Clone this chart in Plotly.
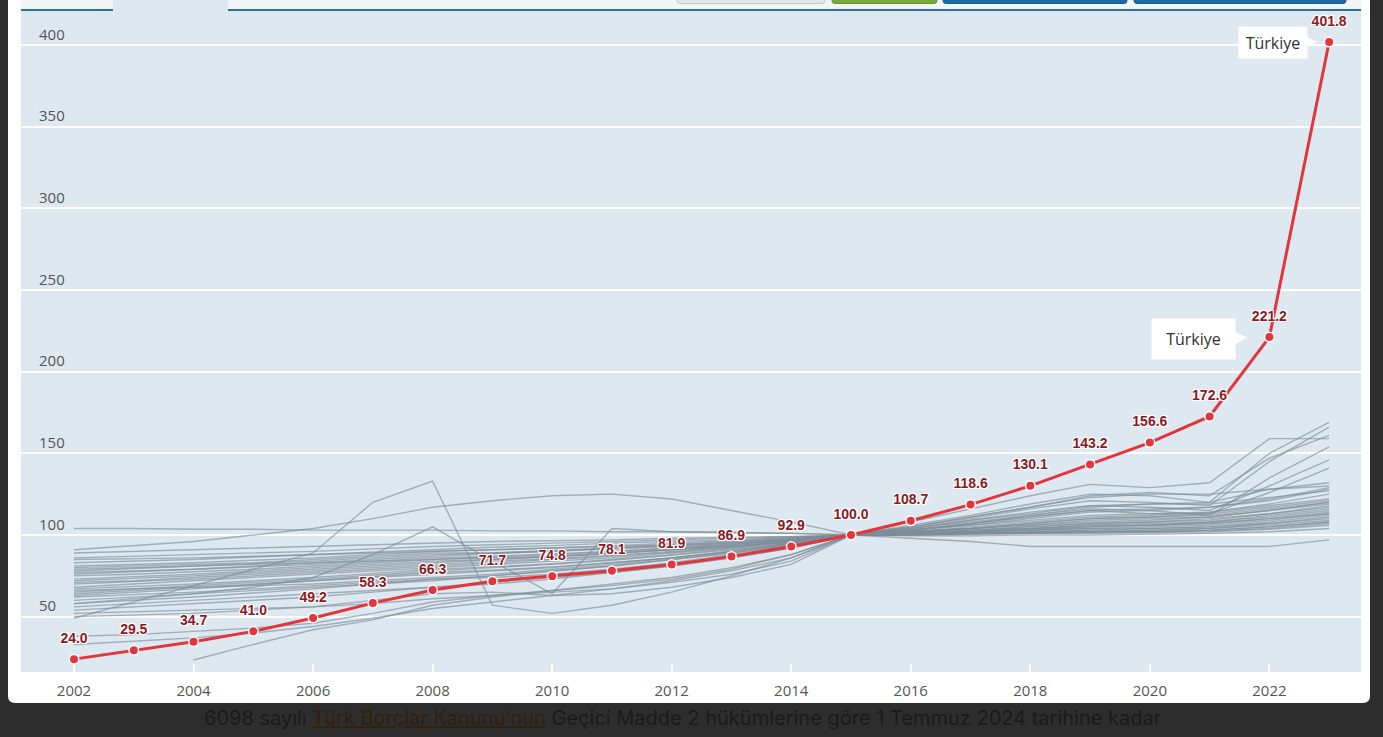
import plotly.graph_objects as go

# ---------------- data ----------------
yillar = list(range(2002, 2024))
turkiye = [24.0, 29.5, 34.7, 41.0, 49.2, 58.3, 66.3, 71.7, 74.8, 78.1, 81.9,
           86.9, 92.9, 100.0, 108.7, 118.6, 130.1, 143.2, 156.6, 172.6, 221.2, 401.8]
x_tick_yillar = list(range(2002, 2023, 2))
y_tick_degerler = [50, 100, 150, 200, 250, 300, 350, 400]
etiket = "Türkiye"
alt_yazi_1 = "6098 sayılı "
alt_yazi_link = "Türk Borçlar Kanunu’nun"
alt_yazi_2 = " Geçici Madde 2 hükümlerine göre 1 Temmuz 2024 tarihine kadar"

# other countries (index, 2015 = 100)
ulke_01 = [104, 104, 103.5, 103.5, 103, 103, 103, 102.5, 102.5, 102, 102, 101.5, 101, 100, 100.5, 101, 101.5, 102, 102, 103, 105, 108]
ulke_02 = [91, 93.5, 96, 100, 104, 110, 117, 121, 124, 125, 122, 115, 108, 100, 103, 106, 110, 114, 115, 117, 122, 129]
ulke_03 = [49, 59, 69, 79, 89, 120, 133, 57, 52, 57, 65, 75, 86, 100, 103, 106, 109, 112, 113, 114, 118, 122]
ulke_04 = [58, 61, 64, 68, 74, 88, 105, 84, 64, 104, 102, 101.5, 101, 100, 105, 111, 117, 124, 126, 124, 147, 161]
ulke_05 = [64, 66, 68, 70, 72, 74, 76, 78, 80, 83, 86, 90, 95, 100, 100, 100.5, 101, 101, 101.5, 102, 103.5, 106]
ulke_06 = [None, None, 23.5, 33, 42, 48, 57, 62, 66, 70, 74, 80, 88, 100, 108, 116, 124, 131, 129, 132, 159, 159]
ulke_07 = [38, 39, 41, 43, 46, 52, 59, 63, 66, 69, 73, 79, 88, 100, 106, 112, 119, 125, 124, 120, 150, 169]
ulke_08 = [33, 35, 37, 40, 44, 49, 55, 59, 63, 67, 72, 78, 86, 100, 104, 108, 112, 116, 115, 112, 135, 154]
ulke_09 = [89, 90, 91, 92, 93, 94, 95, 96, 96.5, 97, 98, 98.5, 99, 100, 99.5, 99.5, 100, 100, 100.5, 101, 102, 104]
ulke_10 = [86, 87, 88, 89, 90, 91.5, 93, 94, 95, 96, 97, 98, 99, 100, 100, 100.5, 101, 101.5, 102, 102.5, 104, 107]
ulke_11 = [83, 84, 85, 86.5, 88, 89.5, 91, 92.5, 93.5, 95, 96, 97, 98.5, 100, 105, 110, 116, 121, 120, 118, 145, 166]
ulke_12 = [81, 82, 83, 84.5, 86, 88, 90, 91, 92, 93.5, 95, 96.5, 98, 100, 100, 101, 101.5, 102, 102, 103, 105, 108]
ulke_13 = [80, 81, 82, 83, 85, 87, 89, 89, 90, 92, 94, 96, 98, 100, 104, 109, 114, 118, 119, 120, 128, 132]
ulke_14 = [78, 79.5, 81, 82.5, 84, 86, 88, 89, 90.5, 92, 93.5, 95, 97.5, 100, 100.5, 101, 101.5, 102, 103, 104, 106, 109]
ulke_15 = [77, 78, 79, 81, 83, 85, 87, 88.5, 90, 91.5, 93, 95, 97, 100, 102, 104, 107, 110, 111, 113, 117, 121]
ulke_16 = [76, 77.5, 79, 80.5, 82, 84, 86, 87, 88.5, 90, 92, 94, 97, 100, 100.5, 101, 102, 103, 103, 104, 107, 110]
ulke_17 = [75, 76, 77.5, 79, 81, 83, 85, 86.5, 88, 90, 92, 94.5, 97, 100, 104, 109, 113, 118, 117, 115, 130, 146]
ulke_18 = [73, 74.5, 76, 78, 80, 82, 84, 85, 86.5, 88.5, 91, 93.5, 96.5, 100, 100.5, 101, 102, 103, 104, 105, 107, 111]
ulke_19 = [72, 73.5, 75, 77, 79, 81, 83, 85, 87, 89, 91, 93, 96, 100, 102, 104, 106, 109, 110, 111, 115, 120]
ulke_20 = [71, 72, 74, 76, 78, 80, 82, 84, 85.5, 87.5, 90, 93, 96, 100, 98, 96, 93, 93, 93, 93, 93, 97]
ulke_21 = [70, 71.5, 73, 75, 77, 79, 81, 83, 85, 87, 89.5, 92.5, 96, 100, 102, 104, 106, 108, 109, 111, 115, 119]
ulke_22 = [68, 70, 72, 74, 76, 78, 80, 82, 84, 86, 89, 92, 96, 100, 105, 111, 117, 123, 125, 125, 128, 130]
ulke_23 = [67, 68.5, 70, 72, 74, 76.5, 79, 80.5, 82.5, 85, 88, 91.5, 95.5, 100, 101, 103, 105, 107, 108, 109, 113, 118]
ulke_24 = [65, 67, 69, 71, 73, 75.5, 78, 80, 82, 84.5, 87.5, 91, 95, 100, 103, 107, 111, 115, 113, 113, 126, 141]
ulke_25 = [63, 65, 67, 69.5, 72, 74.5, 77, 78.5, 80.5, 83, 86, 90, 94.5, 100, 102, 103, 105, 107, 108, 110, 113, 117]
ulke_26 = [62, 63.5, 65, 67, 69, 71, 73, 75, 78, 81, 85, 89, 94, 100, 103, 107, 111, 115, 116, 117, 121, 128]
ulke_27 = [60, 62, 64, 66, 68, 70, 72, 75, 78, 81, 85, 89, 94, 100, 101, 103, 104, 106, 107, 108, 112, 116]
ulke_28 = [58, 60, 62, 64.5, 67, 70, 73, 74, 76, 79, 83, 88, 93.5, 100, 102, 105, 108, 111, 112, 114, 119, 125]
ulke_29 = [56, 58, 60, 62, 64, 66, 68, 70, 73, 77, 81, 86, 92, 100, 101, 102, 104, 105, 106, 108, 111, 115]
ulke_30 = [54, 56, 58, 60, 62, 65, 68, 71, 74, 77, 81, 86, 92, 100, 101, 102, 103, 105, 106, 107, 110, 114]
ulke_31 = [52, 53, 54, 55, 56, 58, 61, 63, 65, 67, 71, 76, 84, 100, 101, 102, 103, 104, 105, 106, 109, 113]
ulke_32 = [50, 51, 52, 54, 56, 60, 64, 65, 63, 64, 68, 74, 82, 100, 101, 102, 103, 104, 104, 105, 108, 112]
ulke_33 = [85, 85.5, 86, 87, 88, 89, 90, 91, 92, 93, 94, 95.5, 97.5, 100, 101, 102, 104, 106, 106, 107, 110, 113]
ulke_34 = [79, 80, 81, 82, 83, 84, 85, 86, 87, 89, 91, 94, 97, 100, 102, 104, 107, 110, 111, 112, 116, 120]
ulke_35 = [66, 67, 68, 69, 70, 72, 74, 76, 79, 82, 86, 90, 95, 100, 103, 107, 112, 117, 119, 119, 123, 127]

diger_ulkeler = [ulke_01, ulke_02, ulke_03, ulke_04, ulke_05, ulke_06, ulke_07, ulke_08, ulke_09,
                 ulke_10, ulke_11, ulke_12, ulke_13, ulke_14, ulke_15, ulke_16, ulke_17, ulke_18,
                 ulke_19, ulke_20, ulke_21, ulke_22, ulke_23, ulke_24, ulke_25, ulke_26, ulke_27,
                 ulke_28, ulke_29, ulke_30, ulke_31, ulke_32, ulke_33, ulke_34, ulke_35]

# ---------------- page geometry ----------------
W, H = 1383, 737
PX_L, PX_R, PX_T, PX_B = 21, 1361, 10, 672


def px(x):
    return x / W


def py(y):
    return 1 - y / H


def rrect_path(x0, y0, x1, y1, r, top=True, bottom=True):
    X0, X1 = px(x0), px(x1)
    Y0, Y1 = py(y0), py(y1)
    rx, ry = r / W, r / H
    p = []
    if top:
        p.append(f"M{X0},{Y0 - ry} Q{X0},{Y0} {X0 + rx},{Y0} L{X1 - rx},{Y0} Q{X1},{Y0} {X1},{Y0 - ry}")
    else:
        p.append(f"M{X0},{Y0} L{X1},{Y0}")
    if bottom:
        p.append(f"L{X1},{Y1 + ry} Q{X1},{Y1} {X1 - rx},{Y1} L{X0 + rx},{Y1} Q{X0},{Y1} {X0},{Y1 + ry}")
    else:
        p.append(f"L{X1},{Y1} L{X0},{Y1}")
    p.append("Z")
    return " ".join(p)


fig = go.Figure()

GREY = "rgba(125,141,152,0.64)"
for seri in diger_ulkeler:
    fig.add_trace(go.Scatter(x=yillar, y=seri, mode="lines",
                             line=dict(color=GREY, width=1.4),
                             hoverinfo="skip", showlegend=False))

RED = "#e2363c"
fig.add_trace(go.Scatter(x=yillar, y=turkiye, mode="lines+markers", name=etiket,
                         line=dict(color=RED, width=3),
                         marker=dict(size=9.5, color=RED, line=dict(color="white", width=1.5)),
                         showlegend=False))
# value labels (invisible larger marker only used for label offset)
fig.add_trace(go.Scatter(x=yillar, y=turkiye, mode="markers+text",
                         texttemplate="%{y:.1f}", textposition="top center",
                         marker=dict(size=19, opacity=0, color=RED),
                         textfont=dict(family="Liberation Sans, Arial, sans-serif", size=14,
                                       color="#8b1a1e", weight="bold",
                                       shadow="1px 1px 0 #fff, -1px -1px 0 #fff, 1px -1px 0 #fff, -1px 1px 0 #fff, 0 1px 0 #fff, 0 -1px 0 #fff, 1px 0 0 #fff, -1px 0 0 #fff"),
                         hoverinfo="skip", showlegend=False, cliponaxis=False))

shapes = []
# dark page around the white card (outer rect with a rounded hole)
outer = "M0,0 L1,0 L1,1 L0,1 Z"
shapes.append(dict(type="path", xref="paper", yref="paper", layer="below",
                   path=outer + " " + rrect_path(8, -20, 1370, 703, 7),
                   fillcolor="#2d2d2d", line=dict(width=0)))
# header strip
shapes.append(dict(type="rect", xref="paper", yref="paper", layer="below",
                   x0=px(PX_L), x1=px(PX_R), y0=py(10), y1=py(0),
                   fillcolor="#f3f4f4", line=dict(width=0)))
# selected tab
shapes.append(dict(type="rect", xref="paper", yref="paper", layer="above",
                   x0=px(113), x1=px(228), y0=py(11.5), y1=py(0),
                   fillcolor="#dde8f0", line=dict(width=0)))
# tab underline
for a, b in [(PX_L, 113), (228, PX_R)]:
    shapes.append(dict(type="line", xref="paper", yref="paper", layer="above",
                       x0=px(a), x1=px(b), y0=py(10), y1=py(10),
                       line=dict(color="#2f6d9b", width=2)))
# buttons (only bottom edges visible)
for x0, x1, fc, lc in [(677, 825, "#e6e6e6", "#c9c9c9"), (832, 937, "#77a83a", "#6a9830"),
                       (943, 1127, "#1d69a6", "#185c93"), (1134, 1346, "#1d69a6", "#185c93")]:
    shapes.append(dict(type="path", xref="paper", yref="paper", layer="above",
                       path=rrect_path(x0, -10, x1, 3.5, 3, top=False), fillcolor=fc,
                       line=dict(color=lc, width=1)))

annotations = []
# tooltip boxes
annotations.append(dict(x=2023, y=turkiye[-1], xref="x", yref="y", text=etiket,
                        showarrow=True, ax=-56, ay=0, arrowhead=2, arrowsize=1, arrowwidth=3,
                        arrowcolor="white", standoff=12, bgcolor="white", borderpad=3,
                        width=62, height=25,
                        font=dict(family="Open Sans, sans-serif", size=16, color="#333")))
annotations.append(dict(x=2022, y=turkiye[-2], xref="x", yref="y", text=etiket,
                        showarrow=True, ax=-76, ay=2, arrowhead=2, arrowsize=1, arrowwidth=3,
                        arrowcolor="white", standoff=22, bgcolor="white", borderpad=3,
                        width=77, height=34,
                        font=dict(family="Open Sans, sans-serif", size=16, color="#333")))
# caption
annotations.append(dict(x=px(683), y=py(718), xref="paper", yref="paper", showarrow=False,
                        xanchor="center", yanchor="middle",
                        text=alt_yazi_1 + "<span style='color:#30200e'><u>" + alt_yazi_link + "</u></span>" + alt_yazi_2,
                        font=dict(family="Inter, sans-serif", size=20, color="#1a1a1a")))

fig.update_layout(
    width=W, height=H, autosize=False,
    margin=dict(l=0, r=0, t=0, b=0, pad=0),
    paper_bgcolor="white", plot_bgcolor="#dde8f0",
    shapes=shapes, annotations=annotations,
    hovermode="closest",
    xaxis=dict(domain=[px(PX_L), px(PX_R)], range=[2001.113, 2023.533],
               tickvals=x_tick_yillar, ticktext=[str(v) for v in x_tick_yillar],
               ticks="inside", ticklen=8, tickwidth=2, tickcolor="white",
               showgrid=False, zeroline=False, showline=False,
               ticklabelstandoff=8,
               tickfont=dict(family="Open Sans, sans-serif", size=15, color="#555")),
    yaxis=dict(domain=[py(PX_B), py(PX_T)], range=[16.12, 421.43],
               tickvals=y_tick_degerler, ticktext=[str(v) for v in y_tick_degerler],
               ticklabelposition="inside top", ticklabelstandoff=15,
               showgrid=True, gridcolor="white", gridwidth=1.6,
               zeroline=False, showline=False, ticks="",
               tickfont=dict(family="Open Sans, sans-serif", size=15, color="#555")),
)

fig.write_html("out.html")
